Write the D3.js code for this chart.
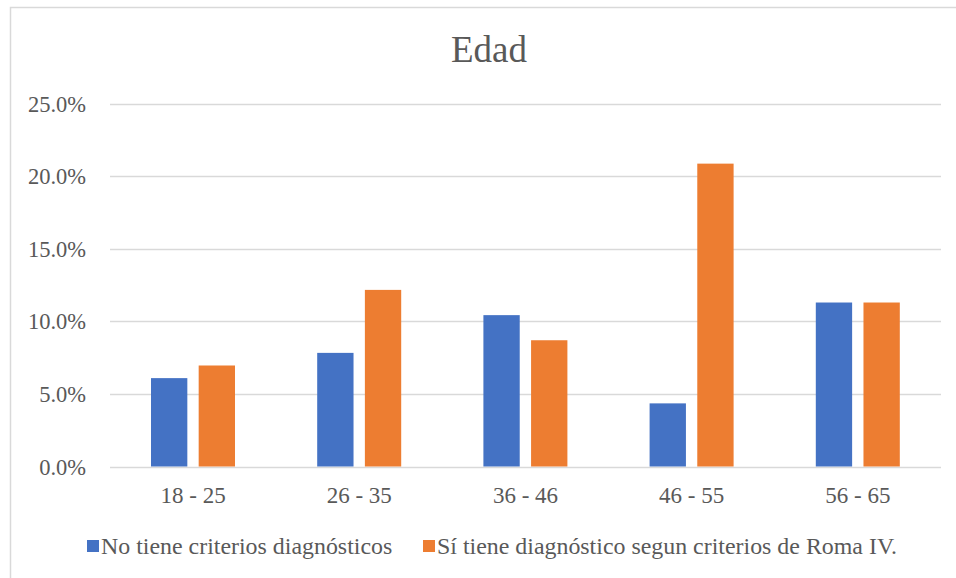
<!DOCTYPE html>
<html><head><meta charset="utf-8">
<script src="https://cdn.jsdelivr.net/npm/d3@7"></script>
<style>html,body{margin:0;padding:0;background:#fff;}svg{display:block;}
svg text{font-family:"Liberation Serif","Times New Roman","DejaVu Serif",serif;}</style>
</head><body>
<script>
const categories = ["18 - 25", "26 - 35", "36 - 46", "46 - 55", "56 - 65"];
const seriesNames = ["No tiene criterios diagnósticos", "Sí tiene diagnóstico segun criterios de Roma IV."];
const noCriterios = [6.09, 7.83, 10.43, 4.35, 11.30];
const siCriterios = [6.96, 12.17, 8.70, 20.87, 11.30];
const yTicks = [0, 5, 10, 15, 20, 25];
const title = "Edad";
const colors = ["#4472C4", "#ED7D31"];

(function () {
const W = 956, H = 578;
const svg = d3.select("body").append("svg").attr("width", W).attr("height", H);
svg.append("rect").attr("width", W).attr("height", H).attr("fill", "#fff");
// chart border (extends past the right/bottom edges)
svg.append("rect").attr("x", 10.5).attr("y", 7.5).attr("width", 960).attr("height", 600)
  .attr("fill", "none").attr("stroke", "#d9d9d9").attr("stroke-width", 1.5);

const pLeft = 110, pRight = 941, pTop = 103.7, pBottom = 466.5;
const y = d3.scaleLinear().domain([0, 25]).range([pBottom, pTop]);
const x0 = d3.scaleBand().domain(categories).range([pLeft, pRight]);
const x1 = d3.scaleBand().domain([0, 1]).range([41, 125]).paddingInner(0.238).paddingOuter(0);

// gridlines
svg.append("g").selectAll("line").data(yTicks).join("line")
  .attr("x1", pLeft).attr("x2", pRight)
  .attr("y1", d => Math.round(y(d)) + 0.5).attr("y2", d => Math.round(y(d)) + 0.5)
  .attr("stroke", "#d9d9d9").attr("stroke-width", 1.3);

// y labels
svg.append("g").selectAll("text").data(yTicks).join("text")
  .attr("x", 86).attr("y", d => y(d) + 8)
  .attr("text-anchor", "end").style("font-size", "22.5px").attr("fill", "#595959")
  .text(d => d.toFixed(1) + "%");

// bars
const seriesData = [noCriterios, siCriterios];
seriesData.forEach((vals, si) => {
  svg.append("g").selectAll("rect").data(vals).join("rect")
    .attr("x", (d, i) => x0(categories[i]) + x1(si))
    .attr("width", x1.bandwidth())
    .attr("y", d => y(d))
    .attr("height", d => y(0) - y(d))
    .attr("fill", colors[si]);
});

// x labels
svg.append("g").selectAll("text").data(categories).join("text")
  .attr("x", d => x0(d) + x0.bandwidth() / 2).attr("y", 503)
  .attr("text-anchor", "middle").style("font-size", "23px").attr("fill", "#595959")
  .text(d => d);

// title
svg.append("text").attr("x", 489).attr("y", 62).attr("text-anchor", "middle")
  .style("font-size", "37px").attr("fill", "#595959").text(title);

// legend
const legendX = [87, 423];
seriesNames.forEach((name, i) => {
  svg.append("rect").attr("x", legendX[i]).attr("y", 540).attr("width", 12).attr("height", 12).attr("fill", colors[i]);
  svg.append("text").attr("x", legendX[i] + 14).attr("y", 554)
    .style("font-size", "23.9px").attr("fill", "#595959").text(name);
});
})();
</script>
</body></html>
